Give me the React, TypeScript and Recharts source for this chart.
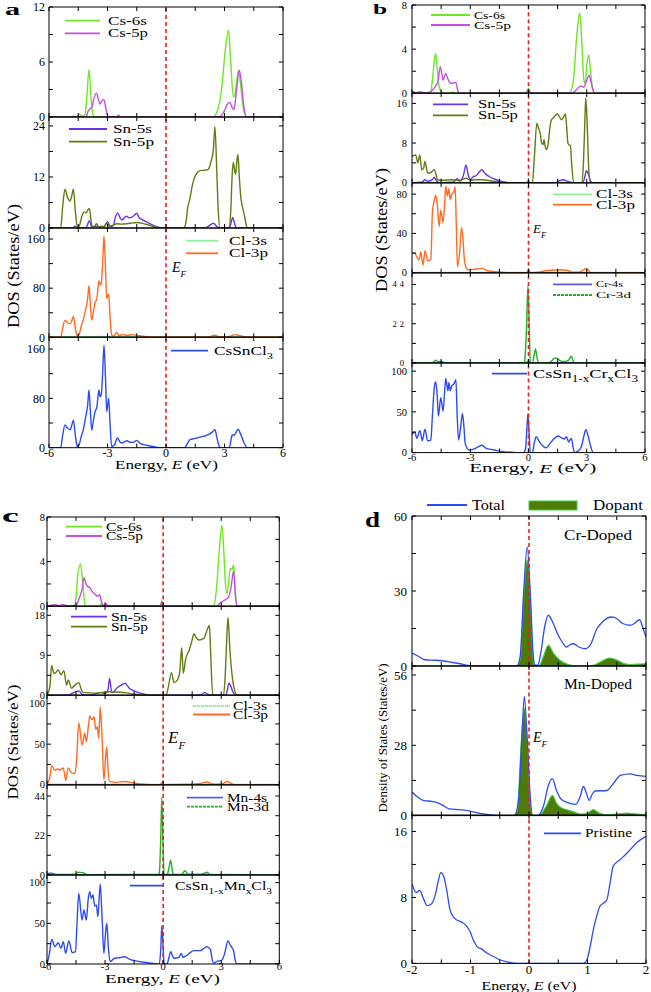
import React from 'react';
import { ComposedChart, Line, Area, XAxis, YAxis, ReferenceLine } from 'recharts';

const FONT = "'Liberation Serif','Times New Roman',serif";

const C_CS6S = '#6ee626';
const C_CS5P = '#c64fe0';
const C_SN5S = '#6a33e6';
const C_SN5P = '#5f7d14';
const C_CL3S = '#8ef0a0';
const C_CL3P = '#ff6b22';
const C_TOT = '#2d4cf0';
const C_4S = '#5a5af0';
const C_3D = '#25b025';
const C_DOPF = '#4e7a0a';
const C_DOPS = '#3ccf3c';
const RED = '#e82020';

// ---------- tick values ----------
const xTicksWide = [-6, -4.5, -3, -1.5, 0, 1.5, 3, 4.5, 6];
const xMajorWide = [-6, -3, 0, 3, 6];
const xTicksD = [-2, -1.5, -1, -0.5, 0, 0.5, 1, 1.5, 2];
const xMajorD = [-2, -1, 0, 1, 2];

// ---------- panel a : CsSnCl3 ----------
const aCs6s = [[-6,0],[-4.6,0],[-4.45,0.3],[-4.3,0.1],[-4.15,0.3],[-4.05,2.5],[-3.95,5.2],[-3.85,2.2],[-3.75,0.3],[-3.65,0],[2.4,0],[2.6,0.5],[2.85,3],[3.05,7.5],[3.2,9.5],[3.32,6],[3.45,2.2],[3.52,2.3],[3.6,3.5],[3.72,5.1],[3.85,3],[4.0,0.6],[4.15,0],[6,0]];
const aCs5p = [[-6,0],[-4.85,0],[-4.75,0.1],[-4.65,0],[-4.1,0],[-4.0,0.6],[-3.9,0.9],[-3.8,1.1],[-3.7,2.0],[-3.57,2.6],[-3.45,1.8],[-3.38,1.4],[-3.28,1.8],[-3.18,1.9],[-3.08,0.9],[-3.0,0.1],[-2.9,0],[-2.55,0],[-2.44,0.2],[-2.33,0],[2.6,0],[2.8,0.1],[3.0,0.7],[3.15,1.4],[3.28,1.6],[3.4,1.0],[3.49,0.8],[3.6,2.6],[3.76,5.1],[3.88,3.5],[4.0,1.0],[4.14,0],[6,0]];
const aSn5s = [[-6,0],[-4.8,0],[-4.67,0.4],[-4.55,0],[-4.1,0.1],[-3.93,1.7],[-3.8,0.2],[-3.6,0.4],[-3.45,0.3],[-3.2,0.2],[-3.0,1.5],[-2.85,0.3],[-2.7,0.6],[-2.6,2.5],[-2.48,3.5],[-2.35,2.4],[-2.25,1.9],[-2.12,2.5],[-2.02,2.8],[-1.9,2.4],[-1.78,2.5],[-1.62,3.0],[-1.5,3.5],[-1.38,2.4],[-1.2,1.9],[-0.9,1.2],[-0.6,0.5],[-0.3,0.1],[-0.1,0],[2.0,0],[2.2,0.5],[2.43,1.1],[2.6,0.4],[2.75,0],[3.25,0],[3.35,1.5],[3.42,2.5],[3.52,1.0],[3.62,0],[6,0]];
const aSn5p = [[-6,0],[-5.4,0],[-5.3,5],[-5.18,9.1],[-5.05,7.2],[-4.92,6.35],[-4.82,7.8],[-4.75,9.1],[-4.65,4],[-4.55,0.3],[-4.45,0.5],[-4.3,3.0],[-4.2,3.8],[-4.1,3.6],[-4.0,4.3],[-3.93,4.6],[-3.85,2],[-3.78,0.3],[-3.65,0.5],[-3.56,1.0],[-3.45,0.3],[-3.3,0.4],[-3.15,0.3],[-3.04,1.2],[-2.92,0.4],[-2.75,0.6],[-2.5,1.0],[-2.3,0.9],[-2.0,1.0],[-1.7,1.2],[-1.5,1.3],[-1.2,1.1],[-0.9,0.7],[-0.6,0.3],[-0.3,0.05],[-0.1,0],[0.9,0],[1.0,0.8],[1.12,5],[1.22,6.8],[1.35,10],[1.45,11.7],[1.6,13.0],[1.75,13.5],[2.0,13.6],[2.17,13.8],[2.3,15.5],[2.43,18.5],[2.51,23.8],[2.6,14],[2.68,4],[2.77,0],[3.25,0],[3.32,4],[3.4,13],[3.45,15.4],[3.52,13.5],[3.57,12.6],[3.63,15.5],[3.69,17.3],[3.76,12],[3.83,7.5],[3.92,5.0],[4.02,3.0],[4.1,1.0],[4.18,0],[6,0]];
const aCl3s = [[-6,0],[-5.35,0],[-5.2,0.8],[-4.8,0.8],[-4.5,0.3],[-4.0,1.0],[-3.2,1.2],[-2.8,0.5],[-1.0,0.3],[0,0],[2.4,0.3],[3.6,0.5],[4.2,0],[6,0]];
const aCl3p = [[-6,0],[-5.4,0],[-5.3,15],[-5.18,27.6],[-5.05,24],[-4.92,22],[-4.82,28],[-4.75,34],[-4.65,15],[-4.55,2],[-4.45,5],[-4.35,18],[-4.24,28.7],[-4.12,45],[-4.02,62],[-3.95,84],[-3.88,55],[-3.81,27.6],[-3.72,42],[-3.64,56],[-3.55,62],[-3.44,92],[-3.38,85],[-3.33,86.6],[-3.25,120],[-3.18,165],[-3.1,110],[-3.04,63],[-2.98,68],[-2.94,70],[-2.87,35],[-2.79,4],[-2.7,2],[-2.53,8],[-2.4,3],[-2.2,4.4],[-2.0,3],[-1.7,4.4],[-1.5,3],[-1.1,1.5],[-0.5,0],[2.0,0],[2.3,1.5],[2.5,3.3],[2.7,1],[3.0,0.5],[3.2,1],[3.4,3],[3.54,4.4],[3.75,3],[4.1,0.5],[4.3,0],[6,0]];
const aTotal = [[-6,0],[-5.4,0],[-5.3,20],[-5.18,37],[-5.05,32],[-4.92,29],[-4.82,38],[-4.75,44.6],[-4.65,20],[-4.55,2],[-4.45,5],[-4.35,18],[-4.24,29],[-4.12,50],[-4.02,68],[-3.95,93.4],[-3.88,60],[-3.81,28],[-3.72,45],[-3.64,58.5],[-3.55,65],[-3.44,93.4],[-3.38,82.7],[-3.33,84],[-3.25,120],[-3.18,166],[-3.1,110],[-3.04,58.5],[-2.98,72],[-2.94,80],[-2.87,40],[-2.79,2],[-2.65,4],[-2.5,15.6],[-2.3,7.5],[-2.15,9],[-2.02,11.3],[-1.8,8.6],[-1.62,9.5],[-1.5,11.8],[-1.3,6.4],[-1.0,4],[-0.6,1.5],[-0.3,0],[0.95,0],[1.05,4],[1.23,12.9],[1.5,15],[1.74,17.2],[2.0,19],[2.17,21],[2.4,26],[2.51,29],[2.62,15],[2.72,3],[2.78,0],[3.25,0],[3.33,12],[3.4,21],[3.5,20],[3.57,23.6],[3.71,30],[3.8,24],[3.88,18],[4.0,8],[4.17,0],[6,0]];

// ---------- panel b : CsSn(1-x)CrxCl3 ----------
const bCs6s = [[-6,0],[-5.9,0.1],[-5.7,0],[-5.5,0.1],[-5.3,0],[-5.05,0],[-4.95,1.2],[-4.85,3.0],[-4.78,3.6],[-4.7,2.2],[-4.6,0.6],[-4.47,0.1],[-4.3,0],[-3.85,0.1],[-3.7,0],[-0.15,0],[0,0.45],[0.12,0],[2.1,0],[2.3,1.0],[2.5,5.5],[2.64,7.3],[2.75,4.5],[2.85,1.2],[2.92,0.9],[3.0,2.5],[3.1,3.46],[3.2,2.0],[3.3,0.4],[3.41,0],[6,0]];
const bCs5p = [[-6,0.1],[-5.9,0.15],[-5.8,0.05],[-5.6,0.15],[-5.4,0.05],[-5.1,0.1],[-4.95,0.3],[-4.78,0.66],[-4.65,1.2],[-4.55,2.4],[-4.45,1.6],[-4.4,1.2],[-4.26,1.8],[-4.15,1.3],[-4.0,0.9],[-3.85,0.95],[-3.74,1.0],[-3.65,0.3],[-3.55,0],[-0.15,0],[0,0.3],[0.12,0],[2.25,0],[2.45,0.3],[2.69,0.66],[2.85,0.55],[3.0,1.2],[3.12,1.65],[3.25,0.8],[3.41,0],[6,0]];
const bSn5s = [[-6,0],[-5.5,0.1],[-5.33,0.6],[-5.2,0.3],[-4.95,0.6],[-4.86,1.1],[-4.75,0.5],[-4.6,0],[-3.9,0.1],[-3.66,0.8],[-3.55,0.3],[-3.35,1.5],[-3.22,3.6],[-3.1,1.5],[-3.0,0.6],[-2.85,1.2],[-2.7,1.4],[-2.55,2.1],[-2.4,2.6],[-2.25,1.9],[-2.05,1.3],[-1.8,0.8],[-1.5,0.4],[-1.2,0.1],[-1.0,0],[1.4,0],[1.6,0.4],[1.78,0.6],[2.0,0.3],[2.3,0],[2.8,0],[2.92,1.5],[2.98,2.4],[3.08,1.8],[3.2,0.3],[3.3,0],[6,0]];
const bSn5p = [[-6,5.3],[-5.81,5.6],[-5.7,4.0],[-5.6,5.6],[-5.5,2.6],[-5.4,3.0],[-5.33,4.3],[-5.2,1.95],[-5.05,2.0],[-4.86,2.6],[-4.75,1.5],[-4.69,0.6],[-4.4,0.5],[-4.0,0.6],[-3.5,0.5],[-3.22,0.9],[-3.0,0.5],[-2.7,0.6],[-2.36,0.6],[-2.0,0.4],[-1.5,0.15],[-1.16,0],[-0.1,0],[0,0.3],[0.1,0],[0.2,0],[0.3,5],[0.43,12],[0.52,11],[0.6,10],[0.68,8],[0.75,7.7],[0.8,8.7],[0.85,7.5],[0.91,6.7],[1.0,7.5],[1.1,11],[1.17,12.6],[1.3,13.2],[1.48,13.85],[1.6,13.3],[1.69,12.7],[1.8,13.2],[1.9,13.85],[1.97,11],[2.03,8],[2.1,7.6],[2.16,7.5],[2.22,4],[2.33,0],[2.75,0],[2.83,4],[2.9,12],[2.95,17.1],[3.02,12],[3.1,3],[3.19,0],[6,0]];
const bCl3s = [[-6,0.3],[-3,0.3],[0,0.2],[3,0.3],[6,0.2]];
const bCl3p = [[-6,19.7],[-5.85,19.7],[-5.75,16],[-5.64,12.9],[-5.55,21],[-5.43,7.8],[-5.33,22.4],[-5.2,12.2],[-5.1,12.5],[-5.03,13.6],[-4.95,60.9],[-4.85,74],[-4.78,78.6],[-4.7,70],[-4.6,47],[-4.52,63.6],[-4.4,51],[-4.32,70],[-4.26,88],[-4.18,78],[-4.1,85.5],[-4.03,74.5],[-3.95,79.7],[-3.85,82],[-3.78,87.5],[-3.72,50],[-3.66,6.1],[-3.55,20],[-3.45,46],[-3.38,35],[-3.3,12.9],[-3.2,5],[-3.05,2.7],[-2.8,3.5],[-2.41,4.4],[-2.1,2],[-1.5,0.7],[-1.16,0],[-0.12,0],[0,2.7],[0.12,0],[0.5,0.5],[0.9,2],[1.2,2.5],[1.43,2.7],[1.8,2.7],[2.05,2.2],[2.2,0.5],[2.6,0.5],[2.85,3],[2.98,4.4],[3.1,2],[3.2,0],[6,0]];
const bCr4s = [[-6,0],[-0.15,0],[0,1],[0.15,0],[6,0]];
const bCr3d = [[-6,0],[-5.2,0],[-5.1,0.3],[-5.0,0],[-4.9,0.5],[-4.78,1.5],[-4.65,0.7],[-4.52,1.0],[-4.35,0.3],[-4.2,0],[-0.25,0],[-0.2,1],[-0.1,20],[-0.03,43],[0.04,20],[0.09,0],[0.2,0],[0.3,5],[0.36,7.9],[0.44,3],[0.52,0],[1.1,0.3],[1.3,2.4],[1.43,2.8],[1.6,1.5],[1.8,0.8],[2.05,1.5],[2.21,3.8],[2.3,1],[2.4,0],[6,0]];
const bTotal = [[-6,21.7],[-5.86,25.8],[-5.75,17.5],[-5.59,27],[-5.47,14.6],[-5.33,28.75],[-5.2,14.6],[-5.03,15.4],[-4.95,45],[-4.85,80],[-4.78,87],[-4.7,70],[-4.64,44.6],[-4.52,67.5],[-4.4,51],[-4.32,75],[-4.26,91],[-4.15,75.8],[-4.1,86],[-4.03,76],[-3.95,82],[-3.85,84],[-3.74,89.6],[-3.68,50],[-3.6,15.4],[-3.5,30],[-3.4,48],[-3.32,30],[-3.26,11],[-3.05,3],[-2.8,4.5],[-2.6,7],[-2.4,9],[-2.2,5.5],[-1.8,3.5],[-1.4,1.5],[-0.8,0.3],[-0.47,0],[-0.25,0],[-0.15,5],[-0.07,35],[-0.03,47.5],[0.03,25],[0.09,0],[0.2,0],[0.3,12],[0.4,19.6],[0.5,16],[0.6,12],[0.75,8],[0.91,5.8],[1.1,11],[1.34,17.5],[1.52,20.4],[1.7,18],[1.86,16.7],[1.95,19.6],[2.07,13],[2.21,17.5],[2.3,6],[2.38,0],[2.55,2],[2.72,7],[2.85,20],[2.95,28],[3.08,19.6],[3.2,8],[3.33,0],[6,0]];

// ---------- panel c : CsSn(1-x)MnxCl3 ----------
const cCs6s = [[-6,0],[-5.6,0.1],[-5.3,0],[-4.6,0],[-4.5,0.8],[-4.42,2.6],[-4.27,3.8],[-4.15,2.0],[-4.02,0],[-3.3,0],[-3.2,0.2],[-3.1,0],[-0.15,0],[-0.07,0.5],[0.02,0],[2.6,0],[2.75,1.5],[2.9,5],[3.04,7.25],[3.13,5],[3.22,2],[3.3,1.13],[3.4,2.5],[3.47,3.4],[3.55,3.3],[3.64,3.7],[3.72,1.5],[3.81,0],[6,0]];
const cCs5p = [[-6,0],[-5.8,0.1],[-5.59,0.15],[-5.4,0.05],[-5.2,0.15],[-4.9,0.05],[-4.5,0.1],[-4.31,0.84],[-4.18,1.6],[-4.09,2.57],[-3.98,2.0],[-3.91,1.8],[-3.79,1.67],[-3.66,1.3],[-3.54,1.13],[-3.4,0.9],[-3.28,1.04],[-3.2,0.5],[-3.1,0.1],[-2.94,0.2],[-2.8,0],[-0.15,0],[-0.07,0.4],[0.02,0],[2.75,0],[2.95,0.3],[3.13,0.5],[3.3,0.7],[3.38,0.84],[3.5,1.6],[3.64,3.16],[3.72,1.2],[3.81,0],[6,0]];
const cSn5s = [[-6,0],[-4.9,0],[-4.7,0.45],[-4.36,1.0],[-4.15,0.1],[-3.8,0],[-3.2,0.6],[-3.0,0.45],[-2.85,1.2],[-2.77,3.8],[-2.65,0.6],[-2.55,0.8],[-2.4,1.6],[-2.2,2.2],[-1.97,2.7],[-1.75,1.6],[-1.5,1.0],[-1.15,0.45],[-0.65,0],[1.9,0],[2.14,0.6],[2.4,0.1],[3.25,0.1],[3.33,1.5],[3.4,2.7],[3.5,2.0],[3.6,0.8],[3.8,0],[6,0]];
const cSn5p = [[-6,0],[-5.85,2],[-5.76,6.7],[-5.65,5.0],[-5.59,4.95],[-5.42,5.7],[-5.28,4.6],[-5.13,5.55],[-4.99,2.3],[-4.9,3.45],[-4.73,1.6],[-4.56,2.3],[-4.36,2.85],[-4.2,1.0],[-4.1,0.6],[-3.5,0.5],[-2.77,0.8],[-2.2,0.7],[-1.99,0.6],[-1.5,0.3],[-0.8,0],[0.15,0],[0.25,1.5],[0.43,5.1],[0.56,2.85],[0.74,3.45],[0.85,5],[0.96,10.7],[1.04,4.95],[1.16,8.1],[1.38,10.6],[1.5,12.5],[1.59,13.8],[1.7,13.0],[1.85,12.45],[2.1,12.8],[2.27,14.7],[2.39,15.75],[2.45,10.2],[2.56,0],[3.12,0],[3.2,4],[3.28,12],[3.35,17.55],[3.45,10.2],[3.59,3.45],[3.7,1],[3.78,0],[6,0]];
const cCl3s = [[-6,0.5],[-3,0.5],[0,0.3],[3,0.5],[6,0.3]];
const cCl3p = [[-6,0],[-5.85,10],[-5.76,23.5],[-5.59,17.8],[-5.45,19.4],[-5.33,17.8],[-5.16,20.7],[-5.03,5],[-4.91,20.7],[-4.73,14.5],[-4.56,13.6],[-4.47,30.7],[-4.36,76.6],[-4.19,49],[-4.05,63.5],[-3.97,53],[-3.85,75],[-3.79,84.8],[-3.67,80],[-3.57,84],[-3.48,68.4],[-3.4,71.7],[-3.33,57],[-3.25,95.5],[-3.16,60],[-3.06,6.2],[-2.97,35],[-2.91,46.7],[-2.85,20],[-2.77,4],[-2.43,2.9],[-2.0,4],[-1.5,2],[-0.65,0],[-0.15,0],[-0.07,2.9],[0.02,0],[1.5,0.5],[2.0,2],[2.27,3.3],[2.5,1],[2.9,0.5],[3.1,1.5],[3.3,4],[3.5,2],[3.65,0],[6,0]];
const cMn4s = [[-6,0.8],[-5.76,1],[-5.5,0.3],[-4,0.2],[0,0.3],[6,0.1]];
const cMn3d = [[-6,0],[-4.8,0],[-4.7,0.5],[-4.55,0.3],[-4.39,1.5],[-4.15,1.3],[-3.95,0.2],[-3.7,0],[-0.25,0],[-0.2,1],[-0.12,22],[-0.07,43],[0.0,15],[0.05,0],[0.2,0],[0.3,4],[0.39,8.3],[0.48,2],[0.56,0],[0.95,0.3],[1.13,2.4],[1.3,0.3],[1.8,0.3],[2.1,0.8],[2.27,1.5],[2.4,0.3],[2.5,0],[6,0]];
const cTotal = [[-6,0],[-5.88,12],[-5.76,30.3],[-5.59,21.3],[-5.42,26.2],[-5.28,19.3],[-5.16,27.5],[-5.04,13.1],[-4.87,28.3],[-4.7,14],[-4.53,15.2],[-4.45,50],[-4.36,86.9],[-4.19,54],[-4.09,66.4],[-3.97,54],[-3.87,80],[-3.79,88.9],[-3.71,80.7],[-3.62,84.8],[-3.54,71.3],[-3.45,72.5],[-3.37,58.2],[-3.25,98.4],[-3.16,60],[-3.06,13],[-2.97,40],[-2.91,50],[-2.83,20],[-2.74,2.9],[-2.51,7],[-2.3,7.5],[-2.0,9],[-1.75,6],[-1.49,4.1],[-0.8,1.6],[-0.29,0],[-0.2,0],[-0.12,20],[-0.07,47],[0.0,20],[0.05,0],[0.2,0],[0.3,8],[0.39,15.2],[0.5,9],[0.56,7],[0.7,7.5],[0.82,8.2],[0.94,13.1],[1.03,8],[1.1,9],[1.25,11],[1.4,14],[1.59,16.4],[1.93,16.4],[2.1,19],[2.24,21.3],[2.35,20],[2.44,18],[2.53,6],[2.62,1],[2.75,2.9],[3.04,4.9],[3.2,15],[3.35,28.7],[3.45,24],[3.52,21.3],[3.64,16],[3.72,5],[3.81,0],[6,0]];

// ---------- panel d : near the Fermi level ----------
const dCrTotal = [[-2,5.2],[-1.9,4],[-1.78,2.5],[-1.6,2.3],[-1.46,2],[-1.3,1.4],[-1.18,0.9],[-1.0,0.1],[-0.9,0],[-0.21,0],[-0.15,4],[-0.09,30],[-0.03,47.6],[0.02,30],[0.07,5],[0.1,0.5],[0.15,0.3],[0.2,5],[0.27,16],[0.33,20.3],[0.42,16.7],[0.5,12.3],[0.57,9.5],[0.64,7.6],[0.7,8.5],[0.76,8.9],[0.85,7.6],[0.96,6.9],[1.05,8.5],[1.16,14.9],[1.25,17.5],[1.41,19.6],[1.5,19],[1.6,17],[1.73,16.3],[1.8,17],[1.89,18.5],[1.95,15],[2.0,11.6]];
const dCrDopant = [[-2,0],[-0.2,0],[-0.15,3],[-0.09,28],[-0.03,42.5],[0.02,28],[0.07,3],[0.1,0],[0.17,0],[0.25,4],[0.33,8.3],[0.42,5],[0.53,2.3],[0.65,0.8],[0.75,0.2],[0.95,0],[1.1,0.3],[1.25,2],[1.38,3.2],[1.5,2.4],[1.62,1],[1.75,0.6],[1.9,0.8],[2.0,0.9]];
const dMnTotal = [[-2,9.4],[-1.9,7.3],[-1.81,6.1],[-1.65,5.6],[-1.55,5],[-1.45,3.8],[-1.38,2.8],[-1.2,2.4],[-1.07,2.1],[-0.9,1.2],[-0.72,0.5],[-0.5,0],[-0.25,0],[-0.18,6],[-0.12,32],[-0.08,47.5],[-0.03,30],[0.02,8],[0.06,0],[0.15,0],[0.25,4],[0.33,12],[0.4,14.7],[0.47,10],[0.55,6.5],[0.64,5.4],[0.8,4.5],[0.88,8],[0.93,11.6],[0.98,9],[1.03,6.1],[1.08,8.5],[1.13,9.8],[1.33,10],[1.45,13],[1.56,16],[1.73,16.6],[1.85,16],[2,15.6]];
const dMnDopant = [[-2,0],[-0.27,0],[-0.2,2],[-0.13,30],[-0.08,42.8],[-0.03,30],[0.02,5],[0.07,0],[0.17,0],[0.3,4],[0.4,8],[0.47,5],[0.53,3.4],[0.65,2.3],[0.76,1.5],[0.9,0.6],[1.0,1],[1.1,2.4],[1.2,1],[1.3,0.4],[1.5,0.6],[1.67,1],[1.85,0.6],[2,0.4]];
const dPristine = [[-2,9.66],[-1.93,8.6],[-1.87,8.85],[-1.8,7.8],[-1.74,7.0],[-1.67,7.2],[-1.61,8.1],[-1.55,10],[-1.51,11.0],[-1.46,10.6],[-1.41,9],[-1.35,6.5],[-1.29,5.6],[-1.24,5.3],[-1.15,5.0],[-1.09,4.7],[-1.01,3.9],[-0.95,2.8],[-0.89,2.06],[-0.8,1.7],[-0.72,1.25],[-0.6,0.8],[-0.5,0.44],[-0.35,0.15],[-0.27,0.04],[-0.1,0],[0.93,0],[0.99,0.44],[1.05,2.2],[1.1,4.1],[1.16,5.8],[1.21,6.9],[1.27,7.3],[1.33,7.7],[1.38,9.5],[1.44,11.8],[1.56,12.6],[1.65,13.2],[1.73,13.8],[1.85,14.7],[2,15.4]];

const pts = (a: number[][]) => a.map(([x, y]) => ({ x, y }));

type S = { d: number[][]; c: string; w?: number; fill?: string };
type SubProps = {
  box: number[]; xd: number[]; xt: number[]; xm: number[];
  ymax: number; yt: number[]; ym: number[];
  showX?: boolean; fs: number; yw: number; ytm: number; xtm?: number;
  yts?: any; series: S[];
};

function Sub(p: SubProps) {
  const MT = 10, MR = 4;
  const MB = p.showX ? 0 : 8;
  const XH = p.showX ? 24 : 1;
  const [L, T, W, H] = p.box;
  const width = p.yw + W + 1 + MR;
  const height = MT + 1 + H + XH + MB;
  const tickFont = { fontSize: p.fs, fontFamily: FONT, fill: '#000' };
  const fmtY = (v: number) => (p.ym.includes(v) ? String(v) : '');
  const fmtX = (v: number) => (p.showX && p.xm.includes(v) ? String(v) : '');
  const ax = { stroke: '#000', strokeWidth: 1 };
  return (
    <div style={{ position: 'absolute', left: L - p.yw, top: T - MT - 1 }}>
      <ComposedChart width={width} height={height} margin={{ top: MT, right: MR, bottom: MB, left: 0 }}>
        <XAxis xAxisId="b" type="number" dataKey="x" domain={p.xd} ticks={p.xt} interval={0} allowDataOverflow
          tickSize={-4} tickMargin={p.xtm ?? 6} height={XH} tick={tickFont} tickFormatter={fmtX} axisLine={ax} tickLine={ax} />
        <XAxis xAxisId="t" orientation="top" type="number" dataKey="x" domain={p.xd} ticks={p.xt} interval={0} allowDataOverflow
          tickSize={-4} height={1} tick={tickFont} tickFormatter={() => ''} axisLine={ax} tickLine={ax} />
        <YAxis yAxisId="l" type="number" domain={[0, p.ymax]} ticks={p.yt} interval={0} allowDataOverflow
          tickSize={-4} tickMargin={p.ytm} width={p.yw} tick={{ ...tickFont, ...(p.yts || {}) }} tickFormatter={fmtY} axisLine={ax} tickLine={ax} />
        <YAxis yAxisId="r" orientation="right" type="number" domain={[0, p.ymax]} ticks={p.yt} interval={0} allowDataOverflow
          tickSize={-4} width={1} tick={tickFont} tickFormatter={() => ''} axisLine={ax} tickLine={ax} />
        {p.series.map((s, i) =>
          s.fill ? (
            <Area key={i} xAxisId="b" yAxisId="l" type="monotone" data={pts(s.d)} dataKey="y" stroke={s.c} strokeWidth={1.2}
              fill={s.fill} fillOpacity={1} dot={false} activeDot={false} isAnimationActive={false} />
          ) : (
            <Line key={i} xAxisId="b" yAxisId="l" type="monotone" data={pts(s.d)} dataKey="y" stroke={s.c} strokeWidth={s.w ?? 1.4}
              dot={false} activeDot={false} isAnimationActive={false} />
          )
        )}
        <ReferenceLine xAxisId="b" yAxisId="l" x={0} stroke={RED} strokeWidth={1.6} strokeDasharray="4 3" />
      </ComposedChart>
    </div>
  );
}

const wide = { xd: [-6, 6], xt: xTicksWide, xm: xMajorWide };
const narrow = { xd: [-2, 2], xt: xTicksD, xm: xMajorD };

function Leg(p: { x1: number; x2: number; y: number; c: string; tx: number; tl: number; fs: number; children: any; dash?: string }) {
  return (
    <g>
      <line x1={p.x1} x2={p.x2} y1={p.y} y2={p.y} stroke={p.c} strokeWidth={1.8} strokeDasharray={p.dash} />
      <text x={p.tx} y={p.y} fontSize={p.fs} dominantBaseline="central" textLength={p.tl} lengthAdjust="spacingAndGlyphs">{p.children}</text>
    </g>
  );
}

const Sub_ = (t: string) => <tspan baselineShift="sub" fontSize="72%">{t}</tspan>;

function EnergyTitle(p: { x: number; y: number; w: number; fs: number }) {
  return (
    <text x={p.x} y={p.y} fontSize={p.fs} textAnchor="middle" dominantBaseline="central" textLength={p.w} lengthAdjust="spacingAndGlyphs">
      Energy, <tspan fontStyle="italic">E</tspan> (eV)
    </text>
  );
}
function YTitle(p: { x: number; y: number; w: number; fs: number; t: string }) {
  return (
    <text transform={`translate(${p.x},${p.y}) rotate(-90)`} fontSize={p.fs} textAnchor="middle" dominantBaseline="central" textLength={p.w} lengthAdjust="spacingAndGlyphs">
      {p.t}
    </text>
  );
}
function EF(p: { x: number; y: number; fs: number }) {
  return (
    <text x={p.x} y={p.y} fontSize={p.fs} fontStyle="italic">
      E<tspan baselineShift="sub" fontSize="65%">F</tspan>
    </text>
  );
}

export default function App() {
  return (
    <div style={{ position: 'absolute', left: 0, top: 0, width: 651, height: 992, background: '#fff', fontFamily: FONT }}>
      {/* panel a */}
      <Sub {...wide} box={[49, 7, 234, 110]} ymax={12} yt={[0, 3, 6, 9, 12]} ym={[0, 6, 12]} fs={12} yw={40} ytm={8}
        series={[{ d: aCs6s, c: C_CS6S }, { d: aCs5p, c: C_CS5P }]} />
      <Sub {...wide} box={[49, 117, 234, 111]} ymax={26.1} yt={[0, 6, 12, 18, 24]} ym={[0, 12, 24]} fs={12} yw={40} ytm={8}
        series={[{ d: aSn5s, c: C_SN5S }, { d: aSn5p, c: C_SN5P }]} />
      <Sub {...wide} box={[49, 228, 234, 109.3]} ymax={178} yt={[0, 40, 80, 120, 160]} ym={[0, 80, 160]} fs={12} yw={40} ytm={8}
        series={[{ d: aCl3s, c: C_CL3S }, { d: aCl3p, c: C_CL3P }]} />
      <Sub {...wide} box={[49, 337.3, 234, 110.7]} ymax={179.4} yt={[0, 40, 80, 120, 160]} ym={[0, 80, 160]} fs={12} yw={40} ytm={8}
        showX xtm={5} series={[{ d: aTotal, c: C_TOT }]} />

      {/* panel b */}
      <Sub {...wide} box={[412, 5, 233, 88.3]} ymax={8} yt={[0, 2, 4, 6, 8]} ym={[0, 4, 8]} fs={10.5} yw={32} ytm={9}
        series={[{ d: bCs6s, c: C_CS6S }, { d: bCs5p, c: C_CS5P }]} />
      <Sub {...wide} box={[412, 93.3, 233, 89.7]} ymax={18.1} yt={[0, 4, 8, 12, 16]} ym={[0, 8, 16]} fs={10.5} yw={32} ytm={9}
        series={[{ d: bSn5s, c: C_SN5S }, { d: bSn5p, c: C_SN5P }]} />
      <Sub {...wide} box={[412, 183, 233, 89.7]} ymax={91.3} yt={[0, 20, 40, 60, 80]} ym={[0, 40, 80]} fs={10.5} yw={32} ytm={9}
        series={[{ d: bCl3s, c: C_CL3S }, { d: bCl3p, c: C_CL3P }]} />
      <Sub {...wide} box={[412, 272.7, 233, 90]} ymax={50.4} yt={[0, 11, 22, 33, 44]} ym={[0, 22, 44]} fs={8.5} yw={32} ytm={9}
        yts={{ letterSpacing: 3 }} series={[{ d: bCr4s, c: C_4S }, { d: bCr3d, c: C_3D }]} />
      <Sub {...wide} box={[412, 362.7, 233, 89.6]} ymax={110} yt={[0, 25, 50, 75, 100]} ym={[0, 50, 100]} fs={10.5} yw={32} ytm={9}
        showX xtm={5} series={[{ d: bTotal, c: C_TOT }]} />

      {/* panel c */}
      <Sub {...wide} box={[47, 516.7, 232.3, 89.3]} ymax={8} yt={[0, 2, 4, 6, 8]} ym={[0, 4, 8]} fs={10.5} yw={40} ytm={6}
        series={[{ d: cCs6s, c: C_CS6S }, { d: cCs5p, c: C_CS5P }]} />
      <Sub {...wide} box={[47, 606, 232.3, 89.3]} ymax={20.1} yt={[0, 4.5, 9, 13.5, 18]} ym={[0, 9, 18]} fs={10.5} yw={40} ytm={6}
        series={[{ d: cSn5s, c: C_SN5S }, { d: cSn5p, c: C_SN5P }]} />
      <Sub {...wide} box={[47, 695.3, 232.3, 89.7]} ymax={110.7} yt={[0, 25, 50, 75, 100]} ym={[0, 50, 100]} fs={10.5} yw={40} ytm={6}
        series={[{ d: cCl3s, c: C_CL3S }, { d: cCl3p, c: C_CL3P }]} />
      <Sub {...wide} box={[47, 785, 232.3, 90]} ymax={50.1} yt={[0, 11, 22, 33, 44]} ym={[0, 22, 44]} fs={10.5} yw={40} ytm={6}
        series={[{ d: cMn4s, c: C_4S }, { d: cMn3d, c: C_3D }]} />
      <Sub {...wide} box={[47, 875, 232.3, 89]} ymax={109.4} yt={[0, 25, 50, 75, 100]} ym={[0, 50, 100]} fs={10.5} yw={40} ytm={6}
        showX xtm={3} series={[{ d: cTotal, c: C_TOT }]} />

      {/* panel d */}
      <Sub {...narrow} box={[412, 515.7, 234, 150]} ymax={60} yt={[0, 15, 30, 45, 60]} ym={[0, 30, 60]} fs={13} yw={36} ytm={9}
        series={[{ d: dCrDopant, c: C_DOPS, fill: C_DOPF }, { d: dCrTotal, c: C_TOT, w: 1.3 }]} />
      <Sub {...narrow} box={[412, 665.7, 234, 149.6]} ymax={59.6} yt={[0, 14, 28, 42, 56]} ym={[0, 28, 56]} fs={13} yw={36} ytm={9}
        series={[{ d: dMnDopant, c: C_DOPS, fill: C_DOPF }, { d: dMnTotal, c: C_TOT, w: 1.3 }]} />
      <Sub {...narrow} box={[412, 815.3, 234, 148.4]} ymax={18} yt={[0, 4, 8, 12, 16]} ym={[0, 8, 16]} fs={13} yw={36} ytm={9}
        showX xtm={5} series={[{ d: dPristine, c: C_TOT, w: 1.3 }]} />

      {/* overlay text */}
      <svg width={651} height={992} style={{ position: 'absolute', left: 0, top: 0, pointerEvents: 'none' }} fontFamily={FONT}>
        {/* panel letters */}
        <text transform="translate(5,14.5) scale(1.9,1)" fontSize={16} fontWeight="bold">a</text>
        <text transform="translate(373,14) scale(1.7,1)" fontSize={15} fontWeight="bold">b</text>
        <text transform="translate(2,522) scale(2,1)" fontSize={19} fontWeight="bold">c</text>
        <text transform="translate(365,527) scale(1.35,1)" fontSize={20} fontWeight="bold">d</text>

        {/* panel a legends */}
        <Leg x1={65} x2={100} y={20.7} c={C_CS6S} tx={108} tl={39} fs={12.5}>Cs-6s</Leg>
        <Leg x1={65} x2={100} y={33.3} c={C_CS5P} tx={108} tl={40} fs={12.5}>Cs-5p</Leg>
        <Leg x1={69} x2={107} y={129} c={C_SN5S} tx={113} tl={39} fs={12.5}>Sn-5s</Leg>
        <Leg x1={69} x2={107} y={141.7} c={C_SN5P} tx={113} tl={41} fs={12.5}>Sn-5p</Leg>
        <Leg x1={186} x2={218} y={240.7} c={C_CL3S} tx={229} tl={38} fs={12.5}>Cl-3s</Leg>
        <Leg x1={186} x2={218} y={253.3} c={C_CL3P} tx={229} tl={39} fs={12.5}>Cl-3p</Leg>
        <Leg x1={171} x2={208} y={350.7} c={C_TOT} tx={214} tl={59} fs={12.5}>CsSnCl{Sub_('3')}</Leg>
        <EF x={172} y={272} fs={14} />
        <EnergyTitle x={166.5} y={465} w={103} fs={12.5} />
        <YTitle x={13} y={266} w={124} fs={16} t="DOS (States/eV)" />

        {/* panel b legends */}
        <Leg x1={431} x2={470} y={15} c={C_CS6S} tx={474} tl={31} fs={11}>Cs-6s</Leg>
        <Leg x1={431} x2={470} y={25} c={C_CS5P} tx={474} tl={37} fs={11}>Cs-5p</Leg>
        <Leg x1={433} x2={468} y={104.3} c={C_SN5S} tx={478} tl={38} fs={11.5}>Sn-5s</Leg>
        <Leg x1={433} x2={468} y={115.3} c={C_SN5P} tx={478} tl={40} fs={11.5}>Sn-5p</Leg>
        <Leg x1={553} x2={592} y={194.3} c={C_CL3S} tx={596} tl={37} fs={11.5}>Cl-3s</Leg>
        <Leg x1={553} x2={592} y={204.7} c={C_CL3P} tx={596} tl={39} fs={11.5}>Cl-3p</Leg>
        <Leg x1={553} x2={592} y={284.3} c={C_4S} tx={596} tl={27} fs={9}>Cr-4s</Leg>
        <Leg x1={553} x2={592} y={295} c={C_3D} tx={596} tl={35} fs={9} dash="3 1">Cr-3d</Leg>
        <Leg x1={492} x2={527} y={373.7} c={C_TOT} tx={533} tl={105} fs={13}>CsSn{Sub_('1-x')}Cr{Sub_('x')}Cl{Sub_('3')}</Leg>
        <EF x={533} y={233} fs={13} />
        <EnergyTitle x={532.7} y={467.5} w={127} fs={13.5} />
        <YTitle x={381} y={230} w={124} fs={16} t="DOS (States/eV)" />

        {/* panel c legends */}
        <Leg x1={66} x2={102} y={526.7} c={C_CS6S} tx={106} tl={36} fs={11.5}>Cs-6s</Leg>
        <Leg x1={66} x2={102} y={536} c={C_CS5P} tx={106} tl={37} fs={11.5}>Cs-5p</Leg>
        <Leg x1={71} x2={107} y={616.7} c={C_SN5S} tx={111} tl={36} fs={11.5}>Sn-5s</Leg>
        <Leg x1={71} x2={107} y={626.7} c={C_SN5P} tx={111} tl={37} fs={11.5}>Sn-5p</Leg>
        <Leg x1={193} x2={230} y={706} c={C_CL3S} tx={233} tl={34} fs={11.5} dash="3 1">Cl-3s</Leg>
        <Leg x1={193} x2={230} y={714.5} c={C_CL3P} tx={233} tl={35} fs={11.5}>Cl-3p</Leg>
        <Leg x1={187} x2={223} y={797.7} c={C_4S} tx={227} tl={40} fs={11.5}>Mn-4s</Leg>
        <Leg x1={187} x2={223} y={806.7} c={C_3D} tx={227} tl={42} fs={11.5} dash="3 1">Mn-3d</Leg>
        <Leg x1={130} x2={163} y={885.7} c={C_TOT} tx={175} tl={97} fs={12}>CsSn{Sub_('1-x')}Mn{Sub_('x')}Cl{Sub_('3')}</Leg>
        <EF x={168} y={743} fs={17} />
        <EnergyTitle x={162.5} y={978} w={115} fs={13.5} />
        <YTitle x={12} y={742} w={115} fs={15.5} t="DOS (States/eV)" />

        {/* panel d legends */}
        <Leg x1={427} x2={467} y={505} c={C_TOT} tx={472} tl={33} fs={14}>Total</Leg>
        <rect x={529} y={501} width={48} height={9} fill={C_DOPF} stroke={C_DOPS} strokeWidth={1} />
        <text x={593} y={505} fontSize={14} dominantBaseline="central" textLength={50} lengthAdjust="spacingAndGlyphs">Dopant</text>
        <text x={564} y={535} fontSize={14} dominantBaseline="central" textLength={68} lengthAdjust="spacingAndGlyphs">Cr-Doped</text>
        <text x={564} y={684} fontSize={14} dominantBaseline="central" textLength={68} lengthAdjust="spacingAndGlyphs">Mn-Doped</text>
        <Leg x1={544} x2={581} y={833.3} c={C_TOT} tx={585} tl={47} fs={12.5}>Pristine</Leg>
        <EF x={533} y={742} fs={14} />
        <EnergyTitle x={529} y={985.5} w={95} fs={12.5} />
        <YTitle x={383} y={738} w={149} fs={12} t="Density of States (States/eV)" />
      </svg>
    </div>
  );
}
